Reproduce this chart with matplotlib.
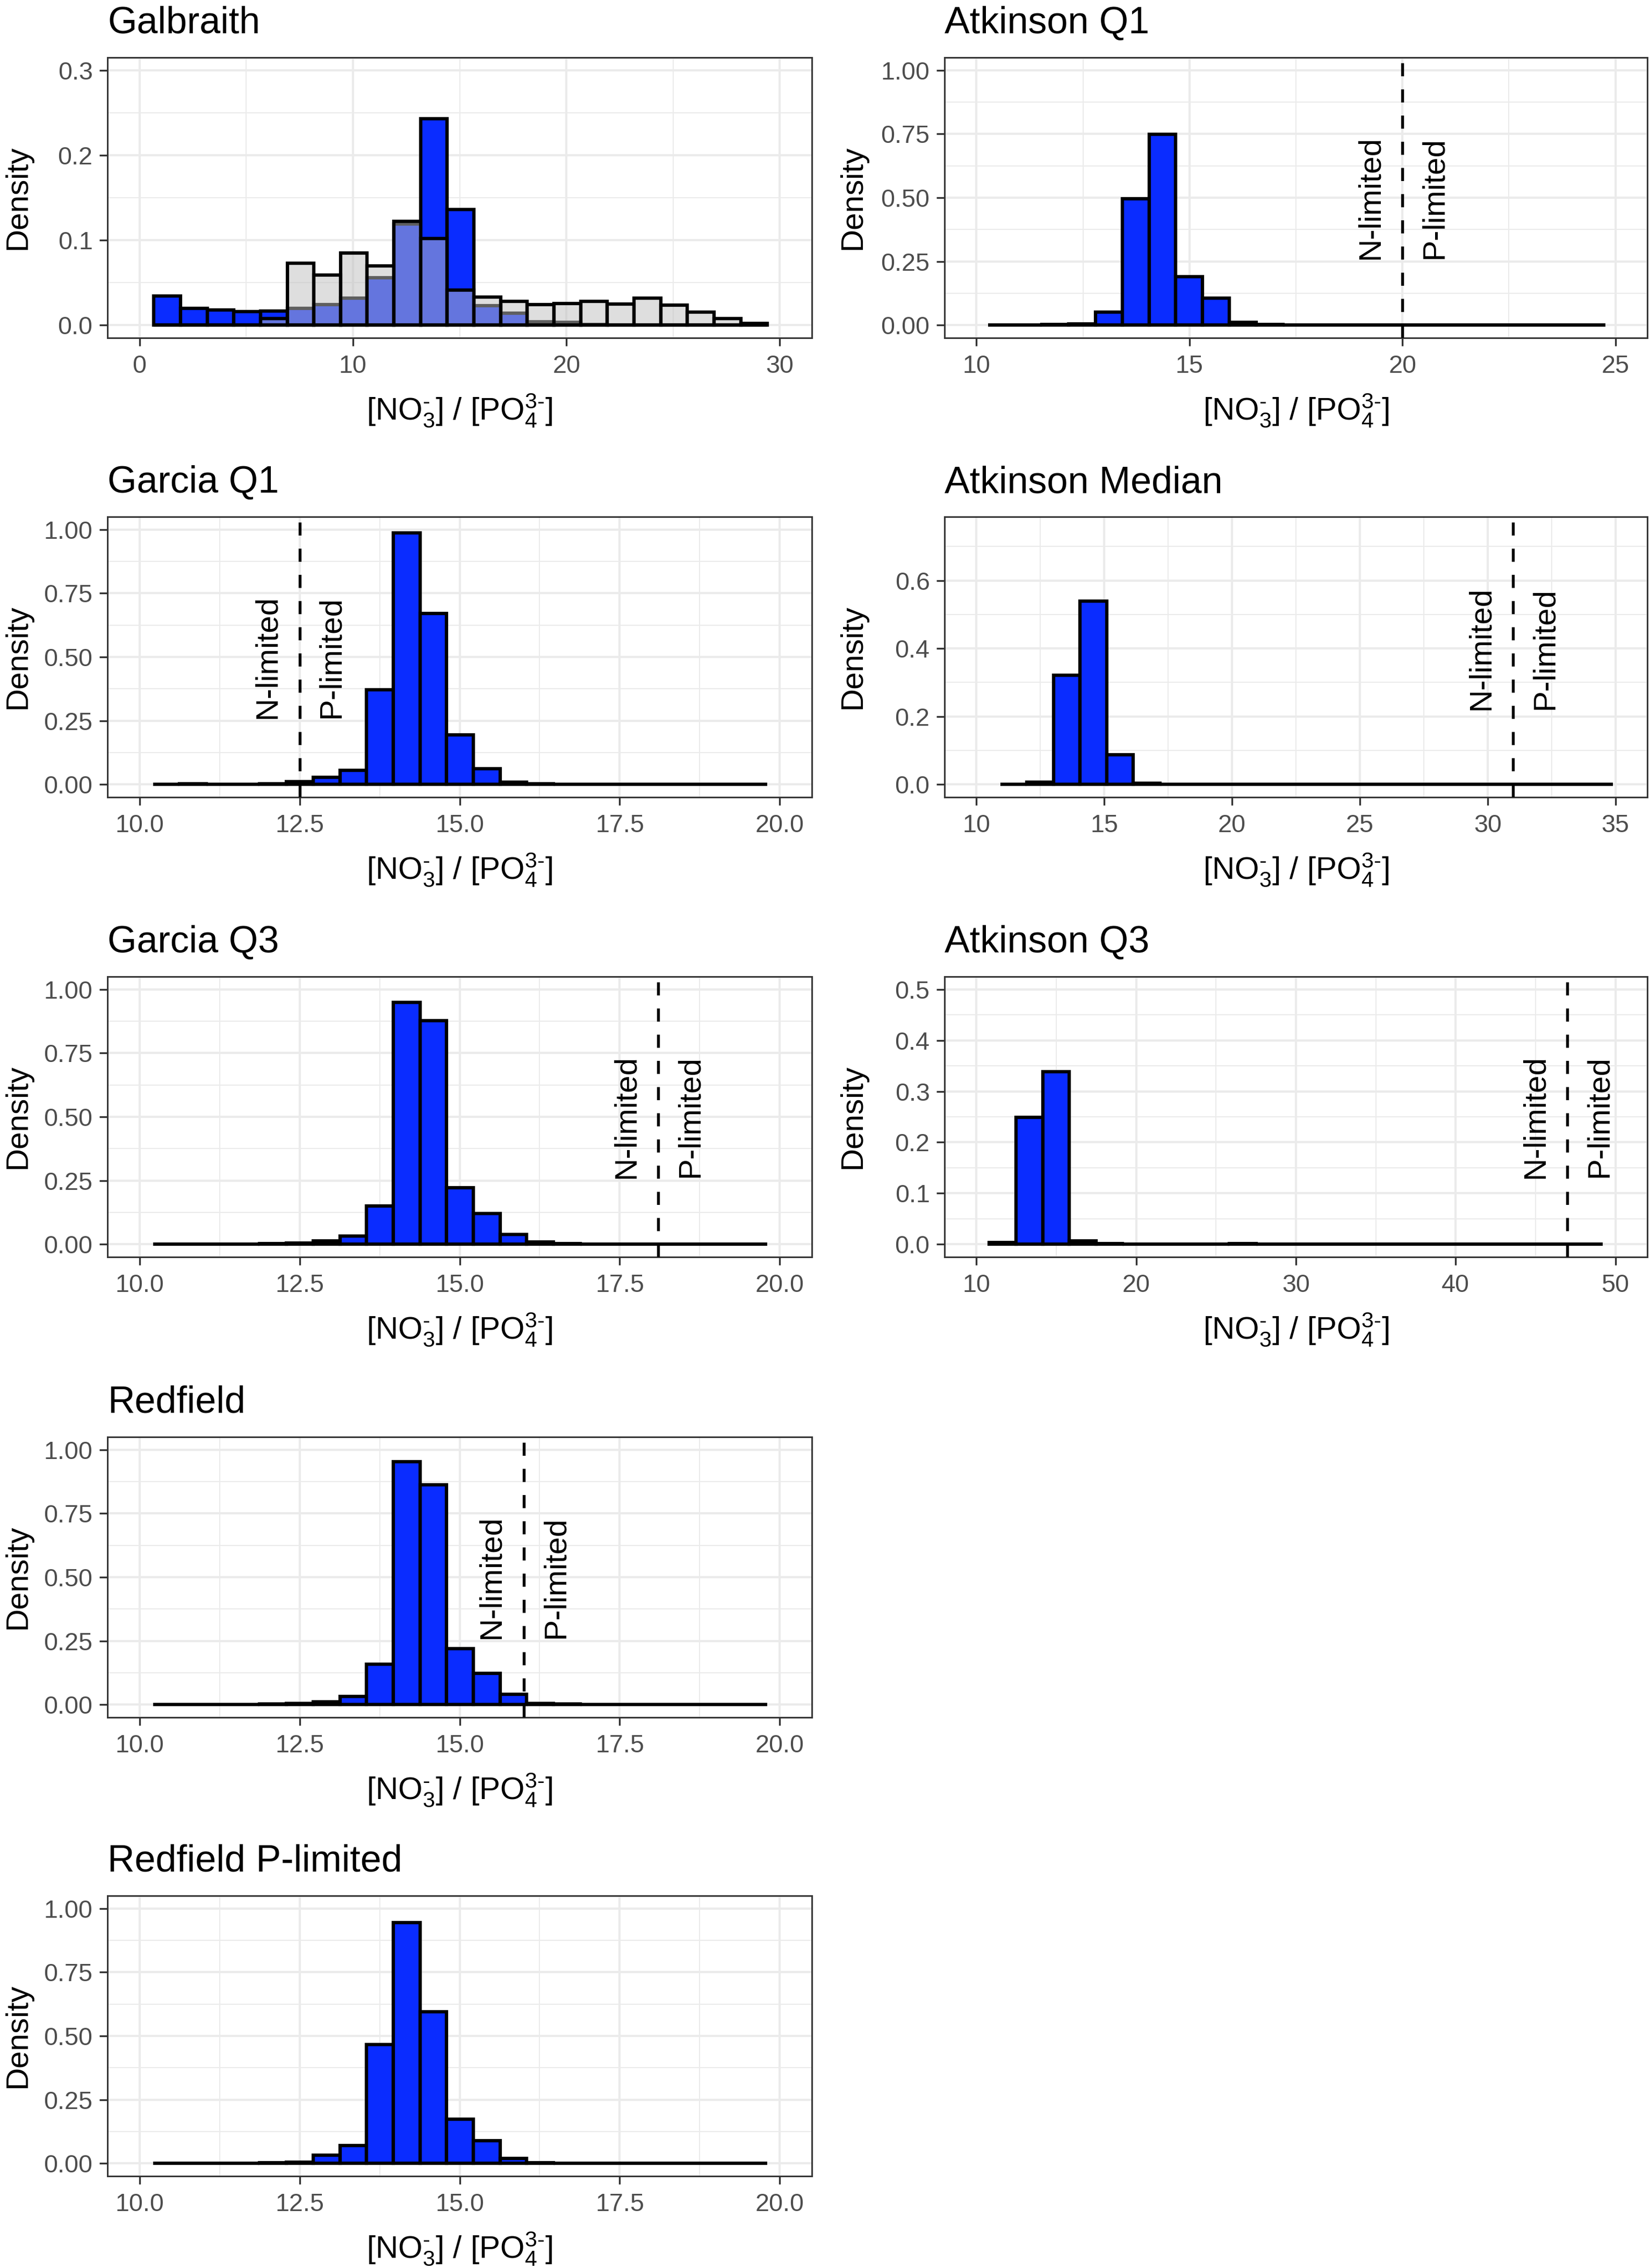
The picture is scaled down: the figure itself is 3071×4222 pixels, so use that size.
import numpy as np
import matplotlib
matplotlib.use('Agg')
import matplotlib.pyplot as plt
from matplotlib.ticker import FixedLocator

plt.rcParams['font.family'] = ['Liberation Sans', 'DejaVu Sans']
plt.rcParams['mathtext.fontset'] = 'custom'
plt.rcParams['mathtext.rm'] = 'Liberation Sans'
plt.rcParams['mathtext.it'] = 'Liberation Sans:italic'
plt.rcParams['mathtext.bf'] = 'Liberation Sans:bold'

# histogram data (23 bins per panel)
galbraith_lo, galbraith_w = 0.67, 1.25
galbraith_blue = [0.034, 0.020, 0.018, 0.016, 0.0166, 0.020, 0.024, 0.032, 0.056, 0.119,
                  0.243, 0.136, 0.023, 0.014, 0.004, 0.0036, 0.0005, 0, 0, 0, 0, 0, 0]
galbraith_grey = [0, 0, 0, 0, 0.008, 0.073, 0.059, 0.085, 0.070, 0.122, 0.102, 0.041,
                  0.033, 0.028, 0.024, 0.0255, 0.028, 0.025, 0.032, 0.0235, 0.0156, 0.0076, 0.002]

atk_q1_lo, atk_q1_w = 10.27, 0.63
atk_q1 = [0, 0.0005, 0.002, 0.004, 0.051, 0.496, 0.748, 0.19, 0.105, 0.012, 0.002, 0.001,
          0, 0, 0, 0, 0, 0, 0, 0, 0, 0, 0]

garcia_q1_lo, garcia_q1_w = 10.21, 0.417
garcia_q1 = [0, 0.002, 0.001, 0.001, 0.002, 0.011, 0.029, 0.056, 0.372, 0.987, 0.671, 0.195,
             0.062, 0.009, 0.002, 0.001, 0, 0.001, 0, 0, 0, 0, 0]

atk_med_lo, atk_med_w = 10.93, 1.042
atk_med = [0.001, 0.007, 0.321, 0.540, 0.088, 0.003, 0.0005, 0.0005, 0.0005, 0.0005, 0.0005,
           0.0005, 0.0005, 0.0005, 0.0005, 0.0005, 0.0005, 0.0005, 0.0005, 0, 0, 0, 0]

garcia_q3_lo, garcia_q3_w = 10.21, 0.417
garcia_q3 = [0, 0.0005, 0.001, 0.001, 0.002, 0.005, 0.013, 0.032, 0.150, 0.949, 0.878, 0.222,
             0.120, 0.039, 0.008, 0.003, 0.001, 0, 0, 0, 0, 0, 0]

atk_q3_lo, atk_q3_w = 10.8, 1.67
atk_q3 = [0.003, 0.249, 0.339, 0.007, 0.001, 0, 0, 0, 0, 0.001, 0, 0,
          0, 0, 0, 0, 0, 0, 0, 0, 0, 0, 0]

redfield_lo, redfield_w = 10.21, 0.417
redfield = [0, 0, 0, 0.001, 0.002, 0.005, 0.012, 0.032, 0.158, 0.953, 0.862, 0.219,
            0.122, 0.040, 0.005, 0.002, 0.001, 0, 0, 0, 0, 0, 0]

redfield_p_lo, redfield_p_w = 10.21, 0.417
redfield_p = [0, 0, 0, 0.001, 0.002, 0.005, 0.032, 0.071, 0.466, 0.944, 0.595, 0.173,
              0.090, 0.020, 0.002, 0.001, 0, 0, 0, 0, 0, 0, 0]

# N/P threshold per panel and y of the rotated labels
thresholds = {'Atkinson Q1': 20.0, 'Garcia Q1': 12.5, 'Atkinson Median': 31.0,
              'Garcia Q3': 18.1, 'Atkinson Q3': 47.0, 'Redfield': 16.0}
label_y = {'Atkinson Q1': 0.5, 'Garcia Q1': 0.5, 'Atkinson Median': 0.4,
           'Garcia Q3': 0.5, 'Atkinson Q3': 0.25, 'Redfield': 0.5}

ticks_x_20 = [10.0, 12.5, 15.0, 17.5, 20.0]
labels_x_20 = ['10.0', '12.5', '15.0', '17.5', '20.0']
ticks_y_1 = [0, 0.25, 0.5, 0.75, 1.0]
labels_y_1 = ['0.00', '0.25', '0.50', '0.75', '1.00']

panels = [
    # name, col, row, lo, w, heights, xlim, xticks, xlabels, ylim, yticks, ylabels
    ('Galbraith', 0, 0, galbraith_lo, galbraith_w, galbraith_blue, (0, 30), [0, 10, 20, 30],
     ['0', '10', '20', '30'], (0, 0.3), [0, 0.1, 0.2, 0.3], ['0.0', '0.1', '0.2', '0.3']),
    ('Atkinson Q1', 1, 0, atk_q1_lo, atk_q1_w, atk_q1, (10, 25), [10, 15, 20, 25],
     ['10', '15', '20', '25'], (0, 1), ticks_y_1, labels_y_1),
    ('Garcia Q1', 0, 1, garcia_q1_lo, garcia_q1_w, garcia_q1, (10, 20), ticks_x_20,
     labels_x_20, (0, 1), ticks_y_1, labels_y_1),
    ('Atkinson Median', 1, 1, atk_med_lo, atk_med_w, atk_med, (10, 35), [10, 15, 20, 25, 30, 35],
     ['10', '15', '20', '25', '30', '35'], (0, 0.75), [0, 0.2, 0.4, 0.6], ['0.0', '0.2', '0.4', '0.6']),
    ('Garcia Q3', 0, 2, garcia_q3_lo, garcia_q3_w, garcia_q3, (10, 20), ticks_x_20,
     labels_x_20, (0, 1), ticks_y_1, labels_y_1),
    ('Atkinson Q3', 1, 2, atk_q3_lo, atk_q3_w, atk_q3, (10, 50), [10, 20, 30, 40, 50],
     ['10', '20', '30', '40', '50'], (0, 0.5), [0, 0.1, 0.2, 0.3, 0.4, 0.5],
     ['0.0', '0.1', '0.2', '0.3', '0.4', '0.5']),
    ('Redfield', 0, 3, redfield_lo, redfield_w, redfield, (10, 20), ticks_x_20,
     labels_x_20, (0, 1), ticks_y_1, labels_y_1),
    ('Redfield P-limited', 0, 4, redfield_p_lo, redfield_p_w, redfield_p, (10, 20), ticks_x_20,
     labels_x_20, (0, 1), ticks_y_1, labels_y_1),
]

BLUE = '#0A2CFF'
GREY = (0.745, 0.745, 0.745, 0.5)
W, H = 3071, 4222
col_x = [200, 1758]
col_w = [1311, 1308]
row_top = [107, 962, 1818, 2675, 3529]
box_h = 522

fig = plt.figure(figsize=(W / 300, H / 300), dpi=300)


def minor_between(ticks, lim):
    step = ticks[1] - ticks[0]
    cand = np.arange(ticks[0] - step / 2, ticks[-1] + step, step)
    lo, hi = lim
    pad = (hi - lo) * 0.05
    return [c for c in cand if lo - pad <= c <= hi + pad]


for (name, col, row, lo, w, heights, xlim, xt, xl, ylim, yt, yl) in panels:
    ax = fig.add_axes([col_x[col] / W, 1 - (row_top[row] + box_h) / H,
                       col_w[col] / W, box_h / H])
    edges = lo + w * np.arange(len(heights) + 1)
    ax.bar(edges[:-1], heights, width=w, align='edge', color=BLUE,
           edgecolor='black', linewidth=1.5, zorder=2)
    if name == 'Galbraith':
        ax.bar(edges[:-1], galbraith_grey, width=w, align='edge', facecolor=GREY,
               edgecolor='black', linewidth=1.5, zorder=3)

    xr = xlim[1] - xlim[0]
    yr = ylim[1] - ylim[0]
    ax.set_xlim(xlim[0] - 0.05 * xr, xlim[1] + 0.05 * xr)
    ax.set_ylim(ylim[0] - 0.05 * yr, ylim[1] + 0.05 * yr)
    ax.set_xticks(xt)
    ax.set_xticklabels(xl)
    ax.set_yticks(yt)
    ax.set_yticklabels(yl)
    ax.xaxis.set_minor_locator(FixedLocator(minor_between(xt, xlim)))
    ax.yaxis.set_minor_locator(FixedLocator(minor_between(yt, ylim)))
    ax.set_axisbelow(True)
    ax.grid(which='major', color='#EBEBEB', linewidth=1.0)
    ax.grid(which='minor', color='#EBEBEB', linewidth=0.5)
    ax.tick_params(which='minor', length=0)
    ax.tick_params(which='major', length=3.6, width=0.8, color='#333333',
                   labelsize=11.2, labelcolor='#4D4D4D')
    ax.tick_params(axis='x', pad=3.8)
    ax.tick_params(axis='y', pad=3.0)
    for sp in ax.spines.values():
        sp.set_color('#333333')
        sp.set_linewidth(0.7)

    if name in thresholds:
        t = thresholds[name]
        ax.axvline(t, color='black', linewidth=1.3, linestyle=(0, (4.5, 4.5)), zorder=4)
        ax.text(t - 0.05 * xr, label_y[name], 'N-limited', rotation=90, ha='center',
                va='center', fontsize=14, zorder=5)
        ax.text(t + 0.05 * xr, label_y[name], 'P-limited', rotation=90, ha='center',
                va='center', fontsize=14, zorder=5)

    ax.set_title(name, loc='left', fontsize=16.8, pad=10.8)
    ylab_x = (33 - col_x[col]) / col_w[col] if col == 0 else (1587 - col_x[col]) / col_w[col]
    ax.text(ylab_x, 0.5, 'Density', rotation=90, ha='center', va='center',
            fontsize=14, transform=ax.transAxes)
    ax.text(0.5, -136 / box_h, r'$[\mathrm{NO}_3^{\text{-}}]\ /\ [\mathrm{PO}_4^{\text{3-}}]$',
            ha='center', va='center', fontsize=14, transform=ax.transAxes)

fig.savefig('out.png', dpi=300)
